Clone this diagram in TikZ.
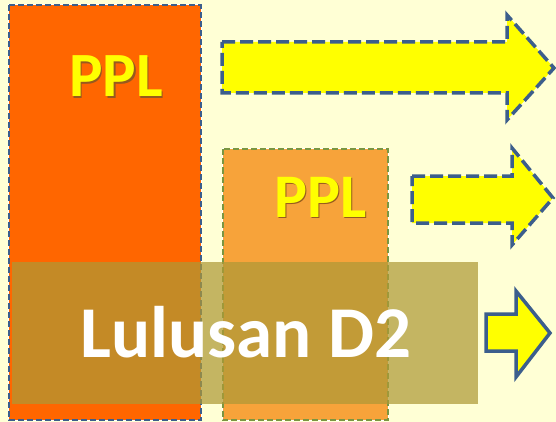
\documentclass[tikz,border=0pt]{standalone}
\usepackage{fontspec}
\setmainfont{Carlito}
\definecolor{bgc}{RGB}{255,255,213}
\definecolor{orangeA}{RGB}{255,102,0}
\definecolor{orangeB}{RGB}{247,163,58}
\definecolor{bandc}{RGB}{174,153,54}
\definecolor{blueb}{RGB}{60,94,140}
\definecolor{greenb}{RGB}{122,150,66}
\definecolor{yel}{RGB}{255,255,0}
\definecolor{shad}{RGB}{150,90,30}
\newcommand{\shadowed}[1]{\makebox[0pt][l]{\hspace{1.5pt}\raisebox{-1.5pt}{\textcolor{shad}{#1}}}#1}
\tikzset{
  bigbox/.style={fill=orangeA, draw=blueb, line width=2pt, dash pattern=on 6pt off 3pt},
  smallbox/.style={fill=orangeB, draw=greenb, line width=2pt, dash pattern=on 6pt off 3pt},
  band/.style={fill=bandc, fill opacity=0.72},
  dasharrow/.style={fill=yel, draw=blueb, line width=3.5pt, dash pattern=on 13pt off 5pt, line join=miter},
  solidarrow/.style={fill=yel, draw=blueb, line width=3.5pt, line join=miter},
  ppltext/.style={inner sep=0pt, anchor=base west, text=yel, font=\bfseries\fontsize{63}{63}\selectfont},
  lultext/.style={inner sep=0pt, anchor=base west, text=white, font=\bfseries\fontsize{73}{73}\selectfont}
}
\begin{document}
\begin{tikzpicture}[x=1pt,y=-1pt]
\useasboundingbox (0,0) rectangle (556,422);
\fill[bgc] (0,0) rectangle (556,422);
% boxes
\draw[white, line width=2pt] (9,5.5) rectangle (200.5,420);
\draw[bigbox] (9,5.5) rectangle (200.5,420);
\draw[white, line width=2pt] (222.5,149.5) rectangle (387.5,420);
\draw[smallbox] (222.5,149.5) rectangle (387.5,420);
% PPL labels
\node[ppltext] (ppl1) at (69,97) {\shadowed{PPL}};
\node[ppltext, font=\bfseries\fontsize{62}{62}\selectfont] (ppl2) at (274,217) {\shadowed{PPL}};
% band
\fill[band] (12,262) rectangle (478,404);
\node[lultext] (lul) at (80,357) {Lulusan D2};
% arrows
\draw[dasharrow] (222,42) -- (507,42) -- (507,15) -- (554,68) -- (507,120) -- (507,93) -- (222,93) -- cycle;
\draw[dasharrow] (412,176) -- (512,176) -- (512,148) -- (553,198) -- (512,245) -- (512,223) -- (412,223) -- cycle;
\draw[solidarrow] (486,314) -- (516,314) -- (516,291) -- (550,333) -- (516,377) -- (516,351) -- (486,351) -- cycle;
\end{tikzpicture}
\end{document}
